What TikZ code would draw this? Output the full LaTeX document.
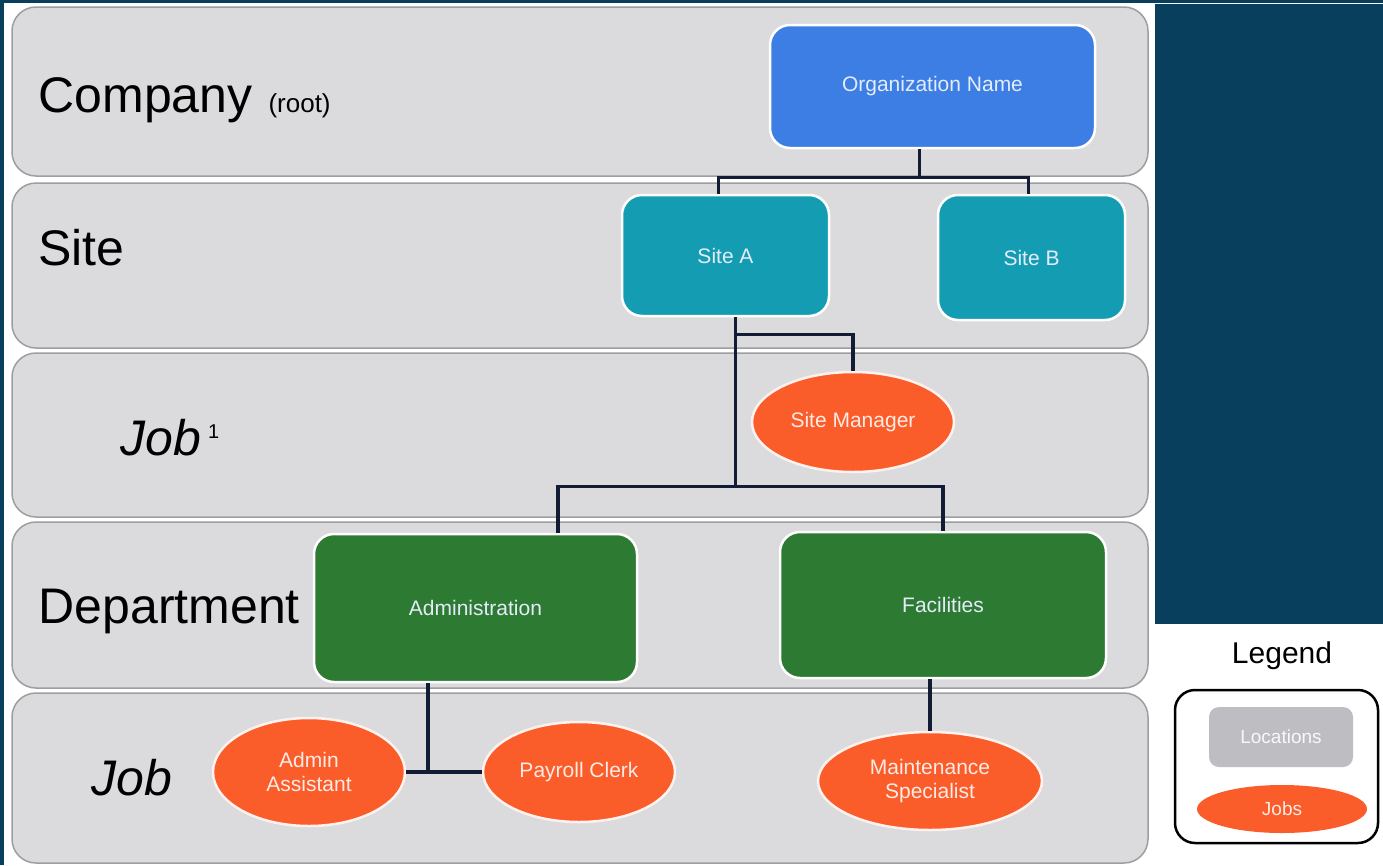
\documentclass[tikz,border=0pt]{standalone}
\usepackage{fontspec}
\setmainfont{Liberation Sans}
\usetikzlibrary{shapes.geometric}
\definecolor{panelblue}{RGB}{7,63,92}
\definecolor{bandgray}{RGB}{219,218,221}
\definecolor{bandline}{RGB}{158,158,160}
\definecolor{orgblue}{RGB}{60,126,228}
\definecolor{siteteal}{RGB}{20,157,178}
\definecolor{deptgreen}{RGB}{45,122,50}
\definecolor{joborange}{RGB}{250,92,42}
\definecolor{linknavy}{RGB}{18,28,52}
\definecolor{boxtext}{RGB}{228,236,250}
\definecolor{legendgray}{RGB}{190,189,193}
\tikzset{
  band/.style={draw=bandline, line width=1.5pt, fill=bandgray, rounded corners=24pt},
  level/.style={anchor=base west, font=\fontsize{50}{60}\selectfont},
  unitbox/.style={draw=white, line width=2.5pt, rounded corners=20pt, text=boxtext,
    font=\fontsize{21}{24}\selectfont, align=center, inner sep=0pt},
  jobnode/.style={ellipse, draw=white!92!joborange, line width=2.5pt, fill=joborange,
    text=white!88!joborange, font=\fontsize{21}{24}\selectfont, align=center, inner sep=0pt},
  link/.style={draw=linknavy, line width=3.5pt},
}
\begin{document}
\begin{tikzpicture}[x=1pt,y=-1pt]
\useasboundingbox (0,0) rectangle (1383,865);
\fill[white] (0,0) rectangle (1383,865);
\fill[panelblue] (0,0) rectangle (4,865);
\fill[panelblue] (0,0) rectangle (1383,3);
% level bands
\foreach \top/\bot in {7/176,183/348,353/517,522/688,693/863}
\draw[band] (12,\top) rectangle (1148,\bot);
\fill[panelblue] (1155,4) rectangle (1383,624);
% level names
\node[level] (lcompany) at (35,112) {Company};
\node[anchor=base west, font=\fontsize{26}{30}\selectfont] (lroot) at (265,112) {(root)};
\node[level] (lsite) at (35,265) {Site};
\node[level, font=\fontsize{50}{60}\selectfont\itshape] (ljobone) at (117,455)
  {Job\hspace{7pt}\raisebox{17pt}{\fontsize{20}{24}\selectfont\upshape 1}};
\node[level] (ldept) at (35,623) {Department};
\node[level, font=\fontsize{50}{60}\selectfont\itshape] (ljob) at (88,795) {Job};
% units
\node[unitbox, fill=orgblue, minimum width=325, minimum height=123] (org) at (932.5,86.5) {Organization Name};
\node[unitbox, fill=siteteal, minimum width=207, minimum height=121] (sa) at (725.5,255.5) {Site A};
\node[unitbox, fill=siteteal, minimum width=187, minimum height=125] (sb) at (1031.5,257.5) {Site B};
\node[jobnode, minimum width=202, minimum height=100] (sm) at (853,422) {Site Manager};
\node[unitbox, fill=deptgreen, minimum width=323, minimum height=148] (adm) at (475.5,608) {Administration};
\node[unitbox, fill=deptgreen, minimum width=326, minimum height=146] (fac) at (943,605) {Facilities};
\node[jobnode, minimum width=192, minimum height=108] (aa) at (309,772) {Admin\\Assistant};
\node[jobnode, minimum width=192, minimum height=100] (pc) at (579,772) {Payroll Clerk};
\node[jobnode, minimum width=224, minimum height=98] (ms) at (930,781) {Maintenance\\Specialist};
% links
\draw[link] ([xshift=-13]org.south) -- ++(0,28) -| ([xshift=-7]sa.north);
\draw[link] ([xshift=-13]org.south) ++(0,28) -| ([xshift=-3]sb.north);
\draw[link] ([xshift=10]sa.south) -- ++(0,169) coordinate (jdept);
\draw[link] ([xshift=10]sa.south) ++(0,17) -| (sm.north);
\draw[link] (jdept) -| ([xshift=82.5]adm.north);
\draw[link] (jdept) -| (fac.north);
\draw[link] (aa.east) -- (pc.west);
\draw[link] ([xshift=-47.5]adm.south) |- (aa.east);
\draw[link] (fac.south -| ms.north) -- (ms.north);
% legend
\node[font=\fontsize{30}{36}\selectfont, anchor=base] (legtitle) at (1282,663) {Legend};
\node[draw=black, line width=2.5pt, fill=white, rounded corners=20pt,
  minimum width=203, minimum height=153] (legbox) at (1276.5,766.5) {};
\node[fill=legendgray, rounded corners=10pt, minimum width=144, minimum height=60,
  text=white!90!legendgray, font=\fontsize{19}{23}\selectfont] (legloc) at (1281,737) {Locations};
\node[ellipse, fill=joborange, minimum width=170, minimum height=48,
  text=white!88!joborange, font=\fontsize{19}{23}\selectfont] (legjob) at (1282,809) {Jobs};
\end{tikzpicture}
\end{document}
